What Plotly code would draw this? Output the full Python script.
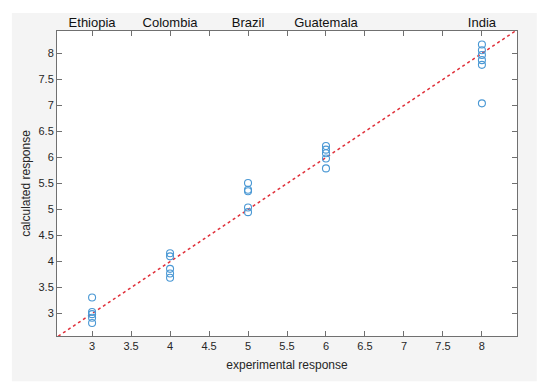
import plotly.graph_objects as go

countries = ["Ethiopia", "Colombia", "Brazil", "Guatemala", "India"]
experimental = [3, 4, 5, 6, 8]
calculated = [
    [3.31, 3.03, 2.99, 2.92, 2.82],
    [4.16, 4.10, 3.86, 3.77, 3.69],
    [5.51, 5.38, 5.35, 5.04, 4.95],
    [6.22, 6.15, 6.08, 5.98, 5.79],
    [8.17, 8.06, 7.97, 7.87, 7.78, 7.04],
]
ref_line = [2.5, 8.5]
ticks = [3, 3.5, 4, 4.5, 5, 5.5, 6, 6.5, 7, 7.5, 8]
tick_text = ["3", "3.5", "4", "4.5", "5", "5.5", "6", "6.5", "7", "7.5", "8"]

xs, ys = [], []
for xv, vals in zip(experimental, calculated):
    xs += [xv] * len(vals)
    ys += vals

fig = go.Figure()
fig.add_trace(go.Scatter(x=ref_line, y=ref_line, mode="lines",
                         line=dict(color="#e0303a", width=1.5, dash="dot"),
                         hoverinfo="skip", showlegend=False))
fig.add_trace(go.Scatter(x=xs, y=ys, mode="markers",
                         marker=dict(symbol="circle-open", size=7,
                                     color="#4a98d4", line=dict(width=1.1)),
                         showlegend=False))
# invisible trace for top axis
fig.add_trace(go.Scatter(x=experimental, y=[None]*5, xaxis="x2", mode="markers",
                         showlegend=False, hoverinfo="skip"))

xr = [2.55, 8.45]
yr = [2.57, 8.43]
axis_common = dict(showgrid=False, zeroline=False, showline=True, linecolor="#707070",
                   linewidth=1, ticks="inside", ticklen=5, tickcolor="#707070",
                   mirror="ticks", tickfont=dict(family="Liberation Sans, Arial", size=11, color="#262626"),
                   tickvals=ticks, ticktext=tick_text)

fig.update_layout(
    width=550, height=385,
    margin=dict(l=57, r=33, t=31, b=49),
    paper_bgcolor="white",
    plot_bgcolor="white",
    xaxis=dict(range=xr, title=dict(text="experimental response", standoff=9,
               font=dict(family="Liberation Sans, Arial", size=12, color="#262626")),
               **axis_common),
    yaxis=dict(range=yr, title=dict(text="calculated response", standoff=5,
               font=dict(family="Liberation Sans, Arial", size=12, color="#262626")),
               **axis_common),
    xaxis2=dict(range=xr, overlaying="x", side="top", showgrid=False, zeroline=False,
                showline=False, ticks="", tickvals=experimental, ticktext=countries,
                ticklabelstandoff=0, automargin=False,
                tickfont=dict(family="Liberation Sans, Arial", size=13, color="#111111")),
    shapes=[
        dict(type="rect", xref="paper", yref="paper", x0=-0.098, x1=1.043,
             y0=-0.148, y1=1.059, fillcolor="#f4f4f4", line=dict(width=0), layer="below"),
        dict(type="rect", xref="paper", yref="paper", x0=0, x1=1, y0=0, y1=1,
             fillcolor="white", line=dict(width=0), layer="below"),
    ],
)

fig.write_html("out.html", config={"displayModeBar": False},
               post_script="document.body.style.margin='0';")
